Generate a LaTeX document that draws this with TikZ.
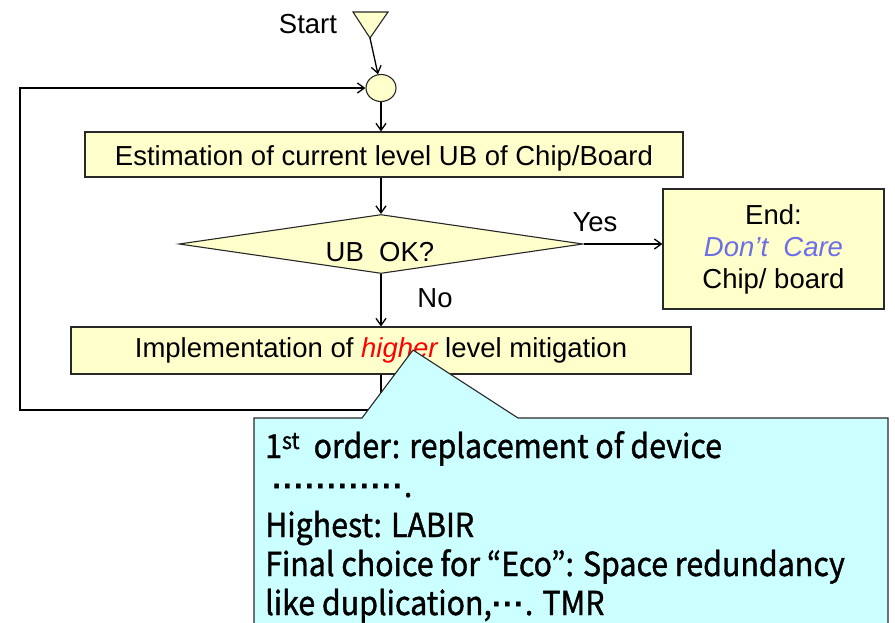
\documentclass[tikz,border=0pt]{standalone}
\usepackage{fontspec}
\setmainfont{Liberation Sans}
\newfontfamily\gothic[FakeStretch=0.92,FakeBold=1.2]{Noto Sans CJK JP}
\newfontfamily\dotfont{Liberation Sans Bold}
\newcommand{\mdots}[1]{{\dotfont\foreach \i in {1,...,#1}{·}}}
\usetikzlibrary{shapes.geometric,arrows.meta}
\definecolor{boxfill}{RGB}{255,255,204}
\definecolor{notefill}{RGB}{204,255,255}
\definecolor{careblue}{RGB}{110,110,230}
\definecolor{edge}{RGB}{40,40,40}
\tikzset{
  flow/.style={line width=1.3pt, draw=black, -{Straight Barb[length=7pt,width=10pt,line width=1.3pt]}},
  procbox/.style={draw=edge, line width=1.1pt, fill=boxfill, inner sep=0pt, font=\fontsize{27.5}{32}\selectfont},
  lbl/.style={font=\fontsize{27.5}{32}\selectfont, inner sep=0pt},
  note/.style={font=\gothic\fontsize{33}{39}\selectfont, anchor=base west, inner sep=0pt}
}
\begin{document}
\begin{tikzpicture}[x=1pt,y=-1pt]
\useasboundingbox (0,0) rectangle (895,622);
\clip (0,0) rectangle (895,622);

% start marker
\node[lbl] (start) at (308,24) {Start};
\draw[line width=1.1pt, draw=edge, fill=boxfill] (353,12) -- (388,12) -- (370,38) -- cycle;
\coordinate (st) at (370,38);

% junction
\node[draw=edge, line width=1.1pt, fill=boxfill, ellipse, minimum width=30pt, minimum height=27pt, inner sep=0pt] (c) at (381,88) {};

% process steps
\node[procbox, minimum width=598pt, minimum height=45pt, text depth=0pt] (est) at (384,154.5) {\raisebox{-2pt}{Estimation of current level UB of Chip/Board}};
\node[procbox, diamond, aspect=6.85, minimum width=404pt, minimum height=59pt] (dec) at (381,244) {};
\node[lbl] (ubok) at (380,252) {UB\ \ OK?};
\node[procbox, minimum width=620pt, minimum height=47pt] (impl) at (381,350.5) {\raisebox{-1pt}{Implementation of \textcolor{red}{\itshape higher} level mitigation}};
\node[procbox, minimum width=221pt, minimum height=120pt, align=center, font=\fontsize{27.5}{32}\selectfont] (end) at (773.5,249)
  {End:\\\textcolor{careblue}{\itshape Don't\ \ Care}\\Chip/ board};

% labels
\node[lbl] (yes) at (595,222) {Yes};
\node[lbl] (no) at (435,298) {No};

% connectors
\coordinate (lb) at (20,410);
\draw[flow] (st) -- (c);
\draw[flow] (c.south) -- (c.south |- est.north);
\draw[flow] (c.south |- est.south) -- (dec.north);
\draw[flow] (dec.east) -- (end.west |- dec.east);
\draw[flow] (dec.south) -- (dec.south |- impl.north);
\draw[flow] (dec.south |- impl.south) |- (lb) |- (c.west);

% callout
\draw[draw=edge, line width=1.1pt, fill=notefill]
  (254,418) -- (362,418) -- (413,350) -- (518,418) -- (888,418) -- (888,650) -- (254,650) -- cycle;
\node[note] (n1) at (265,458) {1\textsuperscript{st}\ \ order: replacement of device};
\node[note] (n2) at (265,497) {\ \mdots{12}.};
\node[note] (n3) at (265,537) {Highest: LABIR};
\node[note] (n4) at (265,576) {Final choice for “Eco”: Space redundancy};
\node[note] (n5) at (265,615) {like duplication,\mdots{3}. TMR};
\end{tikzpicture}
\end{document}
